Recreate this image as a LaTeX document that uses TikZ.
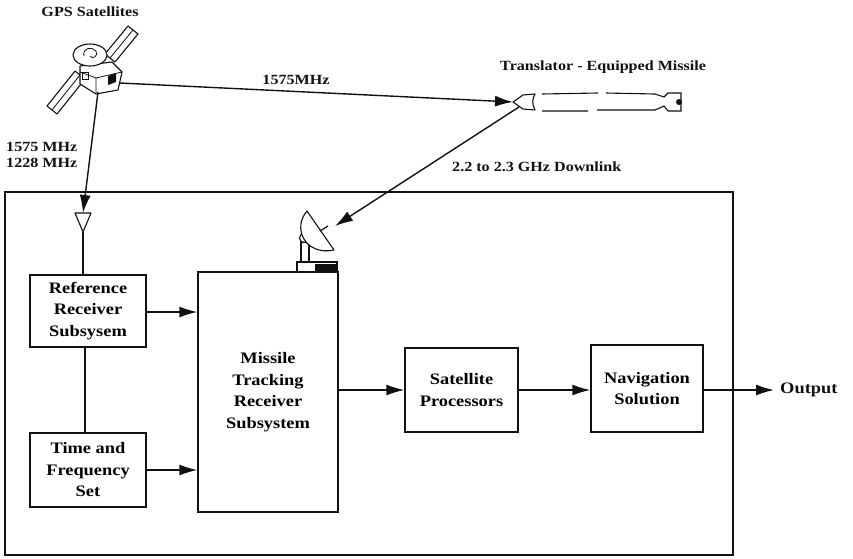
\documentclass[tikz,border=0pt]{standalone}
\usepackage{fontspec}
\setmainfont{Liberation Serif}[FakeStretch=1.15]
\usepackage{tikz}
\usetikzlibrary{arrows.meta,calc}
\definecolor{ink}{HTML}{111111}
\tikzset{
  block/.style={draw=ink, line width=1.4pt, align=center, inner sep=0pt,
    font=\bfseries\fontsize{16}{21.5}\selectfont},
  lab/.style={text=ink, inner sep=0pt, font=\bfseries\fontsize{14}{16}\selectfont},
  wire/.style={draw=ink, line width=1.4pt},
  link/.style={wire, -{Latex[length=18pt,width=11pt]}},
  part/.style={draw=ink, line width=1.1pt, line join=round, fill=white},
}

\begin{document}
\begin{tikzpicture}[x=1pt,y=-1pt]
  \useasboundingbox (0,0) rectangle (853,558);

  % ground station frame
  \draw[wire] (5,192) rectangle (733,555);

  % blocks
  \node[block, minimum width=116pt, minimum height=72pt] (ref) at (88,311) {Reference\\Receiver\\Subsysem};
  \node[block, minimum width=116pt, minimum height=74pt] (tfs) at (88,470) {Time and\\Frequency\\Set};
  \node[block, minimum width=140pt, minimum height=240pt] (mtr) at (268,392) {Missile\\Tracking\\Receiver\\Subsystem};
  \node[block, minimum width=113pt, minimum height=84pt] (proc) at (461.5,390) {Satellite\\Processors};
  \node[block, minimum width=112pt, minimum height=87pt] (nav) at (647,388.5) {Navigation\\Solution};
  \node[lab, anchor=west, font=\bfseries\fontsize{16}{18}\selectfont] (out) at (780,390) {Output};

  % reference antenna
  \coordinate (ant) at (83,213);
  \draw[part] (75,213) -- (91,213) -- (83,232) -- cycle;
  \draw[wire] (83,232) -- (ref.north -| ant);

  % block connections
  \draw[wire] (ref.south -| 85,0) -- (tfs.north -| 85,0);
  \draw[link] (ref.east |- 0,312) -- (mtr.west |- 0,312);
  \draw[link] (tfs.east |- 0,470) -- (mtr.west |- 0,470);
  \draw[link] (mtr.east |- proc) -- (proc.west);
  \draw[link] (proc.east) -- (nav.west |- proc);
  \coordinate (outtip) at (774,390);
  \draw[link] (nav.east |- outtip) -- (outtip);

  % GPS satellite
  \coordinate (satdown) at (98,92);
  \coordinate (satright) at (120,83);
  \draw[part] (85,79) -- (57,114) -- (47,106) -- (75,71) -- cycle;
  \draw[ink, line width=0.8pt] (80,75) -- (52,110);
  \draw[part] (115,62) -- (138,34) -- (128,26) -- (105,54) -- cycle;
  \draw[ink, line width=0.8pt] (110,58) -- (133,30);
  \draw[part] (80,66) -- (112,62) -- (122,72) -- (118,90) -- (96,94) -- (80,84) -- cycle;
  \draw[ink, line width=0.8pt] (80,72) -- (96,78) -- (96,94);
  \draw[ink, line width=0.8pt] (96,78) -- (122,72);
  \draw[part] (90,55) ellipse [x radius=17pt, y radius=11pt];
  \draw[ink, line width=0.8pt] (84,56) .. controls (82,48) and (92,46) .. (96,51) .. controls (99,56) and (92,60) .. (90,56);
  \fill[ink] (108,76) -- (116,73) -- (116,82) -- (108,85) -- cycle;
  \draw[ink, line width=0.8pt] (82,72) rectangle (88,79);
  \node[lab] (gps) at (90,12) {GPS Satellites};

  % translator-equipped missile
  \coordinate (nose) at (513,102);
  \coordinate (noseb) at (519,107);
  \draw[part] (535,94) -- (523,95) -- (nose) -- (523,109) -- (535,110)
    .. controls (532,104) and (532,99) .. cycle;
  \draw[ink, line width=1.1pt] (542,94) -- (598,93) (606,93) -- (655,94)
    (542,111) -- (588,111) (597,110) -- (655,110);
  \draw[ink, line width=1.1pt] (655,94) -- (664,97) -- (668,93) -- (681,93) -- (681,111) -- (668,111) -- (664,106) -- (655,110);
  \fill[ink] (679,102) circle [radius=3pt];
  \node[lab, anchor=west] (msl) at (500,67) {Translator - Equipped Missile};

  % tracking dish on the receiver block
  \coordinate (dish) at (335,226);
  \draw[ink, line width=1.2pt, fill=white] (297,262) rectangle (337,272);
  \fill[ink] (315,264) rectangle (337,272);
  \draw[ink, line width=1.2pt, fill=white] (301,242) rectangle (309,262);
  \draw[part] (304,238) circle [radius=4.5pt];
  \draw[part] (307,211) .. controls (292,228) and (305,256) .. (334,250) -- cycle;
  \draw[ink, line width=1.2pt] (320,231) -- (328,226);

  % signal paths
  \draw[link] (satdown) -- (ant);
  \draw[link] (satright) -- (nose);
  \draw[link] (noseb) -- (dish);
  \node[lab, align=left, anchor=west] (freqs) at (6,155) {1575 MHz\\1228 MHz};
  \node[lab] (l1575) at (296,80) {1575MHz};
  \node[lab, anchor=west] (dl) at (452,167) {2.2 to 2.3 GHz Downlink};
\end{tikzpicture}
\end{document}
